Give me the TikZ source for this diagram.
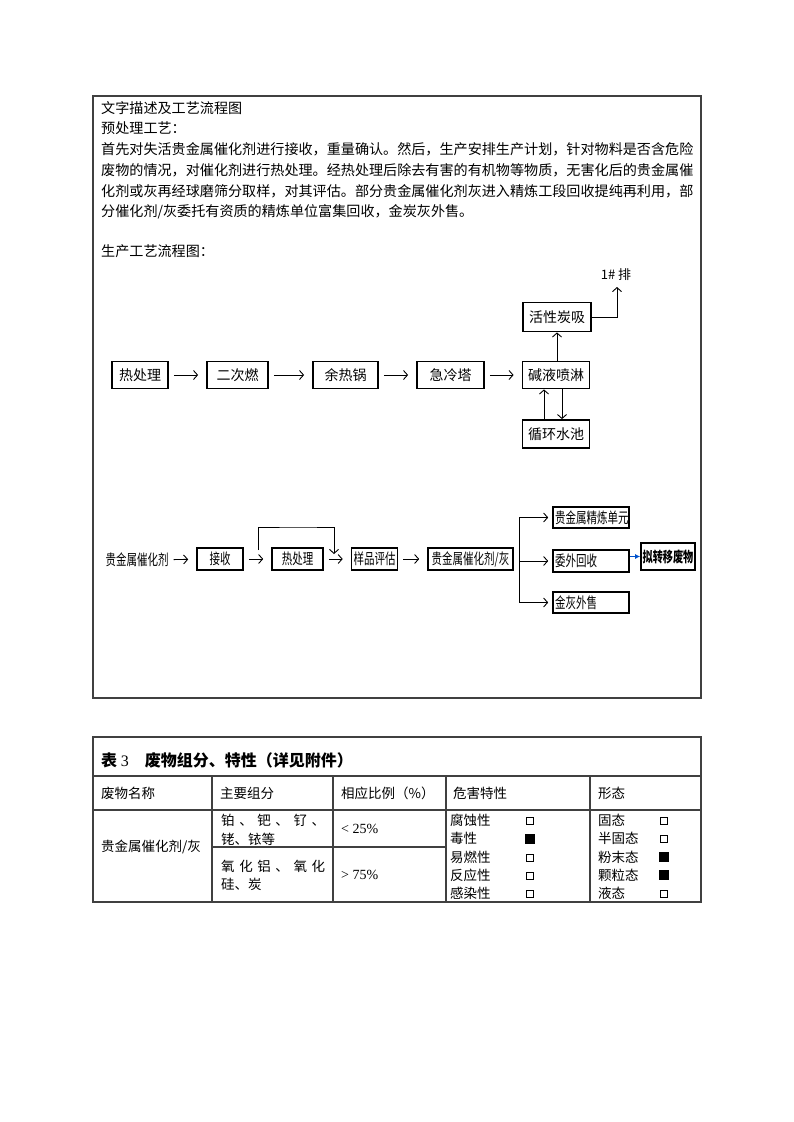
\documentclass[tikz,border=0pt]{standalone}
\usepackage{fontspec}
\setmainfont{Liberation Serif}
\newfontfamily\cjk{Noto Sans CJK SC}
\newfontfamily\cjkn[FakeStretch=0.7]{Noto Sans CJK SC}
\usetikzlibrary{arrows.meta}

\begin{document}
\begin{tikzpicture}[x=1pt, y=-1pt,
    box/.style={draw, line width=1.8pt, inner sep=0pt, minimum height=27pt, font=\cjk\fontsize{14}{14}\selectfont},
    sbox/.style={draw, line width=1.6pt, inner sep=0pt, minimum height=22pt, font=\cjkn\fontsize{15}{15}\selectfont},
    lbox/.style={sbox, text width=72pt, align=left, inner xsep=2pt},
    arr/.style={-{Straight Barb[length=4pt,width=9pt]}, line width=0.9pt},
    gap/.style={shorten <=5pt, shorten >=8pt},
    txt/.style={anchor=west, inner sep=0pt, font=\cjk\fontsize{14.1}{14.1}\selectfont},
    cell/.style={anchor=west, inner sep=0pt, font=\cjk\fontsize{13.5}{13.5}\selectfont},
    frame/.style={draw=black!75, line width=1.2pt},
    chk/.style={draw, line width=0.6pt, minimum size=6.5pt, inner sep=0pt},
    chkd/.style={fill, minimum size=10pt, inner sep=0pt}
]
    \useasboundingbox (0,0) rectangle (793,1122);

    % 外框
    \draw[frame] (93,96) rectangle (701,698);

    % 文字描述
    \node[txt] (t1) at (101,108) {文字描述及工艺流程图};
    \node[txt] (t2) at (101,128) {预处理工艺：};
    \node[txt] (p1) at (101,149) {首先对失活贵金属催化剂进行接收，重量确认。然后，生产安排生产计划，针对物料是否含危险};
    \node[txt] (p2) at (101,170) {废物的情况，对催化剂进行热处理。经热处理后除去有害的有机物等物质，无害化后的贵金属催};
    \node[txt] (p3) at (101,191) {化剂或灰再经球磨筛分取样，对其评估。部分贵金属催化剂灰进入精炼工段回收提纯再利用，部};
    \node[txt] (p4) at (101,212) {分催化剂/灰委托有资质的精炼单位富集回收，金炭灰外售。};
    \node[txt] (t3) at (101,251) {生产工艺流程图：};

    % 烟气处理流程
    \node[box, minimum width=56pt] (rcl) at (140,375) {热处理};
    \node[box, minimum width=61pt] (ecr) at (237.5,375) {二次燃};
    \node[box, minimum width=65pt] (yrg) at (345.5,375) {余热锅};
    \node[box, minimum width=67pt] (jlt) at (450.5,375) {急冷塔};
    \node[box, minimum width=67pt] (jyp) at (556,375) {碱液喷淋};
    \node[box, minimum width=68pt, minimum height=29pt] (hxt) at (557,317) {活性炭吸};
    \node[box, minimum width=67pt, minimum height=28pt] (xhs) at (556,434) {循环水池};
    \node[inner sep=0pt, font=\cjk\fontsize{13}{13}\selectfont] (pf) at (616,275) {1\#\ 排};
    \coordinate (pt) at (617,287);

    \draw[arr, gap] (rcl) -- (ecr);
    \draw[arr, gap] (ecr) -- (yrg);
    \draw[arr, gap] (yrg) -- (jlt);
    \draw[arr, gap] (jlt) -- (jyp);
    \draw[arr] (jyp.north -| hxt) -- (hxt.south);
    \draw[arr] (hxt.east) -| (pt);
    \draw[arr] ([xshift=-12pt]xhs.north) -- ([xshift=-12pt]jyp.south);
    \draw[arr] ([xshift=6pt]jyp.south) -- ([xshift=6pt]xhs.north);

    % 催化剂处理流程
    \node[inner sep=0pt, font=\cjkn\fontsize{15}{15}\selectfont] (src) at (137,560) {贵金属催化剂};
    \node[sbox, minimum width=46pt] (js) at (220,559) {接收};
    \node[sbox, minimum width=51pt] (rcl2) at (297.5,559) {热处理};
    \node[sbox, minimum width=46pt] (ypg) at (374.5,559) {样品评估};
    \node[sbox, minimum width=85pt] (gjs) at (470.5,559) {贵金属催化剂/灰};
    \node[lbox, minimum height=21pt] (jl) at (591,517.5) {贵金属精炼单元};
    \node[lbox] (ww) at (591,561) {委外回收};
    \node[lbox, minimum height=21pt] (jh) at (591,602.5) {金灰外售};
    \node[sbox, minimum width=54pt, minimum height=27pt, font=\cjkn\bfseries\fontsize{14.5}{14.5}\selectfont] (nzy) at (668,556.5) {拟转移废物};

    \draw[arr, gap] (src) -- (js);
    \draw[arr, gap] (js) -- (rcl2);
    \draw[arr, gap] (rcl2) -- (ypg);
    \draw[arr, gap] (ypg) -- (gjs);
    % 跳过热处理
    \coordinate (bp1) at (258,550);
    \coordinate (bpt) at (300,527);
    \coordinate (bp2) at (334,554);
    \draw[arr] (bp1) |- (bpt) -| (bp2);
    % 分支
    \coordinate (br1) at (519,517.5);
    \coordinate (br2) at (519,561);
    \coordinate (br3) at (519,602.5);
    \draw[line width=0.9pt] (br1) -- (br3);
    \draw[arr, shorten >=4pt] (br1) -- (jl);
    \draw[arr, shorten >=4pt] (br2) -- (ww);
    \draw[arr, shorten >=4pt] (br3) -- (jh);
    \draw[-{Latex[length=5pt,width=5pt]}, draw=blue!60!cyan!80!black, fill=blue!60!cyan!80!black, line width=1pt] (ww.east |- nzy) -- (nzy.west);

    % 表3
    \draw[frame] (93,737) rectangle (701,902);
    \draw[frame] (93,776) -- (701,776);
    \draw[frame] (93,810) -- (701,810);
    \draw[frame] (212,847) -- (446,847);
    \draw[frame] (212,776) -- (212,902);
    \draw[frame] (333,776) -- (333,902);
    \draw[frame] (446,776) -- (446,902);
    \draw[frame] (590,776) -- (590,902);

    \node[anchor=west, inner sep=0pt, font=\cjk\bfseries\fontsize{16}{16}\selectfont] (tt) at (101,760) {表 {\rmfamily\mdseries 3}\quad 废物组分、特性（详见附件）};
    \node[cell] (h1) at (101,793) {废物名称};
    \node[cell] (h2) at (220,793) {主要组分};
    \node[cell] (h3) at (341,793) {相应比例（\%）};
    \node[cell] (h4) at (453,793) {危害特性};
    \node[cell] (h5) at (598,793) {形态};

    \node[cell] (mc) at (101,847) {贵金属催化剂/灰};
    \node[cell] (z1) at (221,820) {\makebox[104pt][s]{铂\hfill 、\hfill 钯\hfill 、\hfill 钌\hfill 、}};
    \node[cell] (z2) at (221,839) {铑、铱等};
    \node[cell] (z3) at (221,866) {\makebox[104pt][s]{氧\hfill 化\hfill 铝\hfill 、\hfill 氧\hfill 化}};
    \node[cell] (z4) at (221,884) {硅、炭};
    \node[anchor=west, inner sep=0pt, font=\fontsize{14}{14}\selectfont] (b1) at (341,829) {< 25\%};
    \node[anchor=west, inner sep=0pt, font=\fontsize{14}{14}\selectfont] (b2) at (341,875) {> 75\%};

    % 危害特性
    \node[cell] (w1) at (450,820) {腐蚀性};
    \node[cell] (w2) at (450,838) {毒性};
    \node[cell] (w3) at (450,857) {易燃性};
    \node[cell] (w4) at (450,875) {反应性};
    \node[cell] (w5) at (450,893) {感染性};
    \node[chk] (c1) at (530,821) {};
    \node[chkd] (c2) at (530,839) {};
    \node[chk] (c3) at (530,858) {};
    \node[chk] (c4) at (530,876) {};
    \node[chk] (c5) at (530,894) {};

    % 形态
    \node[cell] (x1) at (598,820) {固态};
    \node[cell] (x2) at (598,838) {半固态};
    \node[cell] (x3) at (598,857) {粉末态};
    \node[cell] (x4) at (598,875) {颗粒态};
    \node[cell] (x5) at (598,893) {液态};
    \node[chk] (d1) at (664,821) {};
    \node[chk] (d2) at (664,839) {};
    \node[chkd] (d3) at (664,857) {};
    \node[chkd] (d4) at (664,875) {};
    \node[chk] (d5) at (664,894) {};
\end{tikzpicture}
\end{document}
